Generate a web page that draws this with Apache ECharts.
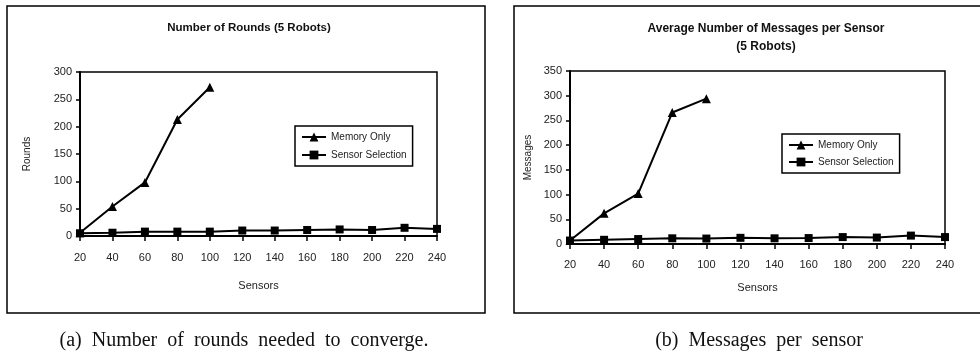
<!DOCTYPE html>
<html><head><meta charset="utf-8">
<script src="https://cdn.jsdelivr.net/npm/echarts@6/dist/echarts.min.js"></script>
<style>html,body{margin:0;padding:0;background:#fff}#c{width:980px;height:354px}</style>
</head><body><div id="c"></div>
<script>
const sensors = ['20','40','60','80','100','120','140','160','180','200','220','240'];
const roundsMemoryOnly = [6, 54, 98, 213, 272];
const roundsSensorSelection = [5, 6, 8, 8, 8, 10, 10, 11, 12, 11, 15, 13];
const msgsMemoryOnly = [7, 62, 102, 266, 294];
const msgsSensorSelection = [7, 8.5, 10, 11.5, 11, 12.5, 11.5, 12, 14, 13, 17, 14];
const roundsTicks = {min: 0, max: 300, interval: 50};
const msgsTicks = {min: 0, max: 350, interval: 50};

const F = 'Liberation Sans, Arial, sans-serif';
const SERIF = 'Liberation Serif, Times New Roman, serif';
const chart = echarts.init(document.getElementById('c'));

function xAxis(gi, gap, margin) {
  return {
    type: 'category', gridIndex: gi, data: sensors, boundaryGap: false,
    name: 'Sensors', nameLocation: 'middle', nameGap: gap,
    nameTextStyle: {fontFamily: F, fontSize: 11, color: '#222'},
    axisLine: {lineStyle: {color: '#000', width: 2}},
    axisTick: {show: true, length: 5, lineStyle: {color: '#000', width: 1.5}, alignWithLabel: true},
    axisLabel: {fontFamily: F, fontSize: 11, color: '#222', margin: margin, interval: 0},
    splitLine: {show: false}
  };
}
function yAxis(gi, t, name, gap) {
  return {
    type: 'value', gridIndex: gi, min: t.min, max: t.max, interval: t.interval,
    name: name, nameLocation: 'middle', nameGap: gap, nameRotate: 90,
    nameTextStyle: {fontFamily: F, fontSize: 10, color: '#222'},
    axisLine: {show: true, lineStyle: {color: '#000', width: 2}},
    axisTick: {show: true, length: 4, lineStyle: {color: '#000', width: 1.5}},
    axisLabel: {fontFamily: F, fontSize: 11, color: '#222', margin: 8},
    splitLine: {show: false}
  };
}
function ser(name, data, xi, sym, size) {
  return {
    type: 'line', name: name, data: data, xAxisIndex: xi, yAxisIndex: xi,
    symbol: sym, symbolSize: size, showAllSymbol: true,
    lineStyle: {color: '#000', width: 2}, itemStyle: {color: '#000'},
    emphasis: {disabled: true}, animation: false, z: 3
  };
}
function legend(left, top, gap) {
  return {
    data: ['Memory Only', 'Sensor Selection'], orient: 'vertical',
    left: left, top: top, itemWidth: 24, itemHeight: 11, itemGap: gap,
    borderColor: '#000', borderWidth: 1.5, padding: [6, 6, 6, 6],
    textStyle: {fontFamily: F, fontSize: 10, color: '#222'},
    selectedMode: false, backgroundColor: '#fff'
  };
}

chart.setOption({
  animation: false,
  grid: [
    {left: 80, top: 72, width: 357, height: 164, show: true, borderColor: '#000', borderWidth: 1.5, containLabel: false},
    {left: 570, top: 71, width: 375, height: 173, show: true, borderColor: '#000', borderWidth: 1.5, containLabel: false}
  ],
  xAxis: [xAxis(0, 44, 16), xAxis(1, 38, 15)],
  yAxis: [yAxis(0, roundsTicks, 'Rounds', 48), yAxis(1, msgsTicks, 'Messages', 37)],
  legend: [legend(295, 126, 8), legend(782, 134, 7)],
  series: [
    ser('Memory Only', roundsMemoryOnly, 0, 'triangle', 9),
    ser('Sensor Selection', roundsSensorSelection, 0, 'rect', 8),
    ser('Memory Only', msgsMemoryOnly, 1, 'triangle', 9),
    ser('Sensor Selection', msgsSensorSelection, 1, 'rect', 8)
  ],
  graphic: [
    {type: 'rect', shape: {x: 7, y: 6, width: 478, height: 307}, style: {fill: 'none', stroke: '#000', lineWidth: 1.5}, silent: true},
    {type: 'rect', shape: {x: 514, y: 6, width: 480, height: 307}, style: {fill: 'none', stroke: '#000', lineWidth: 1.5}, silent: true},
    {type: 'text', style: {x: 249, y: 28, text: 'Number of Rounds (5 Robots)', align: 'center', verticalAlign: 'middle', font: 'bold 11.5px ' + F, fill: '#111'}},
    {type: 'text', style: {x: 766, y: 29, text: 'Average Number of Messages per Sensor', align: 'center', verticalAlign: 'middle', font: 'bold 12px ' + F, fill: '#111'}},
    {type: 'text', style: {x: 766, y: 47, text: '(5 Robots)', align: 'center', verticalAlign: 'middle', font: 'bold 12px ' + F, fill: '#111'}},
    {type: 'text', style: {x: 244, y: 341, text: '(a)  Number  of  rounds  needed  to  converge.', align: 'center', verticalAlign: 'middle', font: '20px ' + SERIF, fill: '#111'}},
    {type: 'text', style: {x: 759, y: 341, text: '(b)  Messages  per  sensor', align: 'center', verticalAlign: 'middle', font: '20px ' + SERIF, fill: '#111'}}
  ]
});
</script></body></html>
